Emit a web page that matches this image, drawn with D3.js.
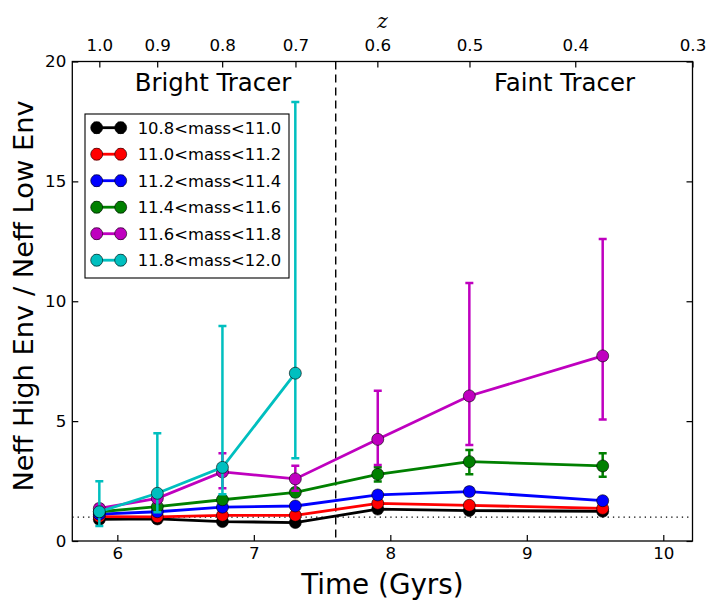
<!DOCTYPE html>
<html>
<head>
<meta charset="utf-8">
<script src="https://cdnjs.cloudflare.com/ajax/libs/d3/7.8.5/d3.min.js"></script>
<style>
	body { margin: 0; background: #fff; }
	text { font-family: "DejaVu Sans", sans-serif; }
</style>
</head>
<body>
<div class="central"></div>
<script>
//Width and height of figure
var width = 716,
	height = 610;

//Edges of the axes box (window.top is taken, so prefix them)
var boxLeft = 72.3,
	boxRight = 692.5,
	boxTop = 61.5,
	boxBottom = 541;

//Time of each redshift bin (Gyrs)
var times = [5.868, 6.293, 6.770, 7.304, 7.908, 8.579, 9.556];

//Top axis: redshift labels and the time they sit at
var zLabels = ["1.0", "0.9", "0.8", "0.7", "0.6", "0.5", "0.4", "0.3"];
var zTimes = [5.868, 6.292, 6.768, 7.305, 7.905, 8.580, 9.355, 10.214];

var xTicks = [6, 7, 8, 9, 10];
var yTicks = [0, 5, 10, 15, 20];

var massBins = ["10.8<mass<11.0", "11.0<mass<11.2", "11.2<mass<11.4",
	"11.4<mass<11.6", "11.6<mass<11.8", "11.8<mass<12.0"];
var colors = ["#000000", "#ff0000", "#0000ff", "#008000", "#bf00bf", "#00bfbf"];

//Neff ratio per mass bin, with lower and upper error bounds
var ratio108 = [0.90, 0.92, 0.81, 0.77, 1.33, 1.27, 1.24];
var low108 = [0.80, 0.84, 0.73, 0.69, 1.23, 1.17, 1.14];
var high108 = [1.00, 1.00, 0.89, 0.85, 1.43, 1.37, 1.34];

var ratio110 = [1.02, 1.01, 1.07, 1.07, 1.57, 1.49, 1.36];
var low110 = [0.92, 0.93, 0.99, 0.99, 1.45, 1.37, 1.26];
var high110 = [1.12, 1.09, 1.15, 1.15, 1.69, 1.61, 1.46];

var ratio112 = [1.12, 1.22, 1.41, 1.46, 1.92, 2.06, 1.68];
var low112 = [1.02, 1.12, 1.31, 1.36, 1.77, 1.91, 1.56];
var high112 = [1.22, 1.32, 1.51, 1.56, 2.07, 2.21, 1.80];

var ratio114 = [1.22, 1.43, 1.72, 2.03, 2.78, 3.31, 3.13];
var low114 = [1.10, 1.31, 1.57, 1.88, 2.48, 2.78, 2.68];
var high114 = [1.34, 1.55, 1.87, 2.18, 3.08, 3.80, 3.66];

var ratio116 = [1.36, 1.78, 2.88, 2.59, 4.24, 6.05, 7.72];
var low116 = [1.21, 1.58, 2.20, 2.10, 3.17, 4.00, 5.07];
var high116 = [1.51, 1.98, 3.66, 3.14, 6.27, 10.76, 12.60];

var ratio118 = [1.22, 1.99, 3.07, 7.00];
var low118 = [0.63, 1.20, 1.95, 3.45];
var high118 = [2.49, 4.49, 8.97, 18.31];

var ratios = [ratio108, ratio110, ratio112, ratio114, ratio116, ratio118];
var lows = [low108, low110, low112, low114, low116, low118];
var highs = [high108, high110, high112, high114, high116, high118];

//Where the tracers switch over
var splitTime = 7.6;

var x = d3.scaleLinear()
	.domain([5.67, 10.214])
	.range([boxLeft, boxRight]);

var y = d3.scaleLinear()
	.domain([0, 20])
	.range([boxBottom, boxTop]);

var svg = d3.select(".central")
	.append("svg")
	.attr("width", width)
	.attr("height", height);

//Axes, ticks pointing in
var tickFont = 16.7;
svg.append("g")
	.attr("transform", "translate(0," + boxBottom + ")")
	.call(d3.axisBottom(x).tickValues(xTicks).tickFormat(d3.format("d"))
		.tickSizeInner(-6).tickSizeOuter(0).tickPadding(6));
svg.append("g")
	.attr("transform", "translate(0," + boxTop + ")")
	.call(d3.axisTop(x).tickValues(zTimes).tickSizeInner(-6).tickSizeOuter(0).tickPadding(10.8)
		.tickFormat(function(d, i){ return zLabels[i]; }));
svg.append("g")
	.attr("transform", "translate(" + boxLeft + ",0)")
	.call(d3.axisLeft(y).tickValues(yTicks).tickFormat(d3.format("d"))
		.tickSizeInner(-6).tickSizeOuter(0).tickPadding(6));
svg.append("g")
	.attr("transform", "translate(" + boxRight + ",0)")
	.call(d3.axisRight(y).tickValues(yTicks).tickSizeInner(-6).tickSizeOuter(0).tickFormat(""));

svg.selectAll(".domain").remove();
svg.selectAll(".tick line").attr("stroke", "#000").attr("stroke-width", 1.2);
svg.selectAll(".tick text")
	.attr("font-size", tickFont)
	.attr("font-family", "DejaVu Sans")
	.attr("fill", "#000");

//Dotted line at ratio of one
svg.append("line")
	.attr("x1", boxLeft).attr("x2", boxRight)
	.attr("y1", y(1)).attr("y2", y(1))
	.attr("stroke", "#000")
	.attr("stroke-width", 1.2)
	.attr("stroke-dasharray", "1.3,4");

//Dashed line between bright and faint tracers
svg.append("line")
	.attr("x1", x(splitTime)).attr("x2", x(splitTime))
	.attr("y1", boxTop).attr("y2", boxBottom)
	.attr("stroke", "#000")
	.attr("stroke-width", 1.4)
	.attr("stroke-dasharray", "8,5");

//Draw each mass bin: error bars, line, markers
var line = d3.line()
	.x(function(d){ return x(d.t); })
	.y(function(d){ return y(d.v); });

for(var s = 0; s < ratios.length; s++){
	var pts = ratios[s].map(function(v, i){
		return {t: times[i], v: v, lo: lows[s][i], hi: highs[s][i]};
	});
	var g = svg.append("g");
	g.selectAll(".bar")
		.data(pts)
		.enter()
		.append("path")
		.attr("d", function(d){
			var cx = x(d.t), cap = 4;
			return "M" + cx + "," + y(d.lo) + "V" + y(d.hi) +
				"M" + (cx - cap) + "," + y(d.hi) + "H" + (cx + cap) +
				"M" + (cx - cap) + "," + y(d.lo) + "H" + (cx + cap);
		})
		.attr("fill", "none")
		.attr("stroke", colors[s])
		.attr("stroke-width", 2.5);
	g.append("path")
		.datum(pts)
		.attr("d", line)
		.attr("fill", "none")
		.attr("stroke", colors[s])
		.attr("stroke-width", 2.8);
	g.selectAll("circle")
		.data(pts)
		.enter()
		.append("circle")
		.attr("cx", function(d){ return x(d.t); })
		.attr("cy", function(d){ return y(d.v); })
		.attr("r", 6)
		.attr("fill", colors[s])
		.attr("stroke", "#000")
		.attr("stroke-width", 0.6);
}

//Axes frame
svg.append("rect")
	.attr("x", boxLeft).attr("y", boxTop)
	.attr("width", boxRight - boxLeft).attr("height", boxBottom - boxTop)
	.attr("fill", "none")
	.attr("stroke", "#000")
	.attr("stroke-width", 1.3);

//Legend
var legend = svg.append("g");
legend.append("rect")
	.attr("x", 85).attr("y", 114)
	.attr("width", 204).attr("height", 164)
	.attr("fill", "#fff")
	.attr("stroke", "#000")
	.attr("stroke-width", 1.1);

var rows = legend.selectAll(".row")
	.data(massBins)
	.enter()
	.append("g")
	.attr("class", "row")
	.attr("transform", function(d, i){ return "translate(0," + (127.7 + i * 26.5) + ")"; });
rows.append("path")
	.attr("d", "M96.7,-5V5M93.7,-5H99.7M93.7,5H99.7M120.7,-5V5M117.7,-5H123.7M117.7,5H123.7")
	.attr("fill", "none")
	.attr("stroke", function(d, i){ return colors[i]; })
	.attr("stroke-width", 2);
rows.append("line")
	.attr("x1", 96.7).attr("x2", 120.7)
	.attr("stroke", function(d, i){ return colors[i]; })
	.attr("stroke-width", 2.8);
rows.selectAll("circle")
	.data(function(d, i){ return [{c: colors[i], cx: 96.7}, {c: colors[i], cx: 120.7}]; })
	.enter()
	.append("circle")
	.attr("cx", function(d){ return d.cx; })
	.attr("r", 6)
	.attr("fill", function(d){ return d.c; })
	.attr("stroke", "#000")
	.attr("stroke-width", 0.6);
rows.append("text")
	.attr("x", 137.7)
	.attr("dy", "0.36em")
	.attr("font-size", 16.4)
	.text(function(d){ return d; });

//Region titles
svg.append("text")
	.attr("x", 213).attr("y", 91)
	.attr("text-anchor", "middle")
	.attr("font-size", 24.4)
	.text("Bright Tracer");
svg.append("text")
	.attr("x", 564.5).attr("y", 91)
	.attr("text-anchor", "middle")
	.attr("font-size", 24.4)
	.text("Faint Tracer");

//Axis labels
svg.append("text")
	.attr("x", (boxLeft + boxRight) / 2).attr("y", 594)
	.attr("text-anchor", "middle")
	.attr("font-size", 27.8)
	.text("Time (Gyrs)");
svg.append("text")
	.attr("transform", "translate(33,296) rotate(-90)")
	.attr("text-anchor", "middle")
	.attr("font-size", 27.3)
	.text("Neff High Env / Neff Low Env");
svg.append("text")
	.attr("x", (boxLeft + boxRight) / 2).attr("y", 28)
	.attr("text-anchor", "middle")
	.attr("font-size", 20)
	.attr("font-style", "italic")
	.style("font-family", "'DejaVu Serif', serif")
	.text("z");
</script>
</body>
</html>
